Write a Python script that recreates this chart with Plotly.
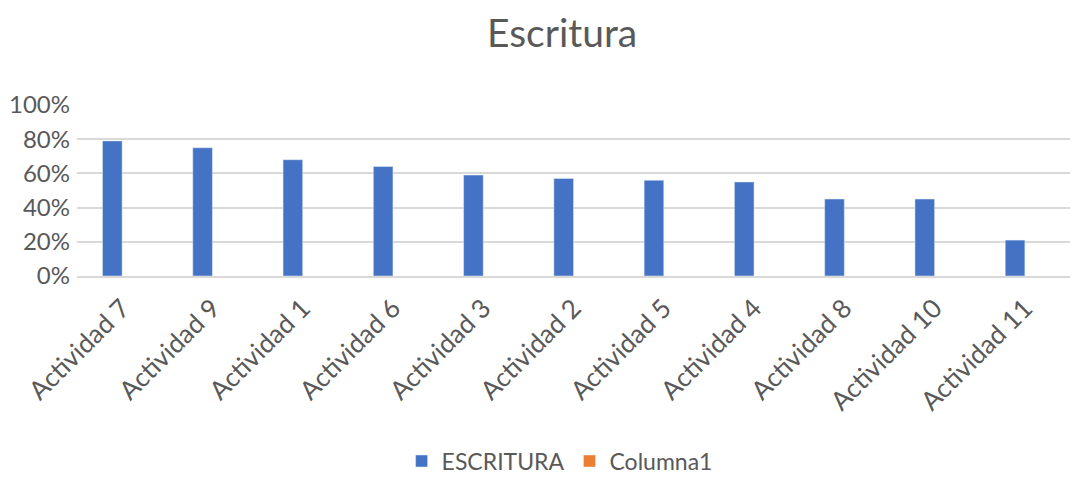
import plotly.graph_objects as go

categories = ["Actividad 7", "Actividad 9", "Actividad 1", "Actividad 6", "Actividad 3",
              "Actividad 2", "Actividad 5", "Actividad 4", "Actividad 8", "Actividad 10",
              "Actividad 11"]
escritura = [0.79, 0.75, 0.68, 0.64, 0.59, 0.57, 0.56, 0.55, 0.45, 0.45, 0.21]
columna1 = [None] * len(categories)

gray = "#595959"
font_family = "Lato"

fig = go.Figure()
fig.add_trace(go.Bar(x=categories, y=escritura, name="ESCRITURA",
                     marker=dict(color="#4472C4")))
fig.add_trace(go.Bar(x=categories, y=columna1, name="Columna1",
                     marker=dict(color="#ED7D31")))

# the page body adds an 8px margin, so the figure is a bit smaller than the window
fig.update_layout(
    width=1076, height=469,
    paper_bgcolor="white", plot_bgcolor="white",
    margin=dict(l=69, r=14, t=97, b=201),
    barmode="group", bargap=0.565, bargroupgap=0,
    font=dict(family=font_family, color=gray),
    title=dict(text="Escritura", x=0.515, xanchor="center", y=0.945, yanchor="middle",
               font=dict(size=39, color=gray, family=font_family)),
    showlegend=True,
    legend=dict(orientation="h", x=0.486, xanchor="center", yref="container", y=0.034,
                yanchor="middle", font=dict(size=23, color=gray), itemwidth=30),
)

fig.update_yaxes(range=[0, 1], dtick=0.2, tickformat=".0%",
                 gridcolor="#d9d9d9", gridwidth=1.5, zeroline=False, automargin=False,
                 tickfont=dict(size=24, color=gray), ticks="", ticklabelstandoff=6)
fig.update_xaxes(tickangle=-45, showline=True, linecolor="#d9d9d9", linewidth=1.5,
                 automargin=False,
                 tickfont=dict(size=26, color=gray), ticks="", ticklabelstandoff=5)

fig.write_html("out.html")
